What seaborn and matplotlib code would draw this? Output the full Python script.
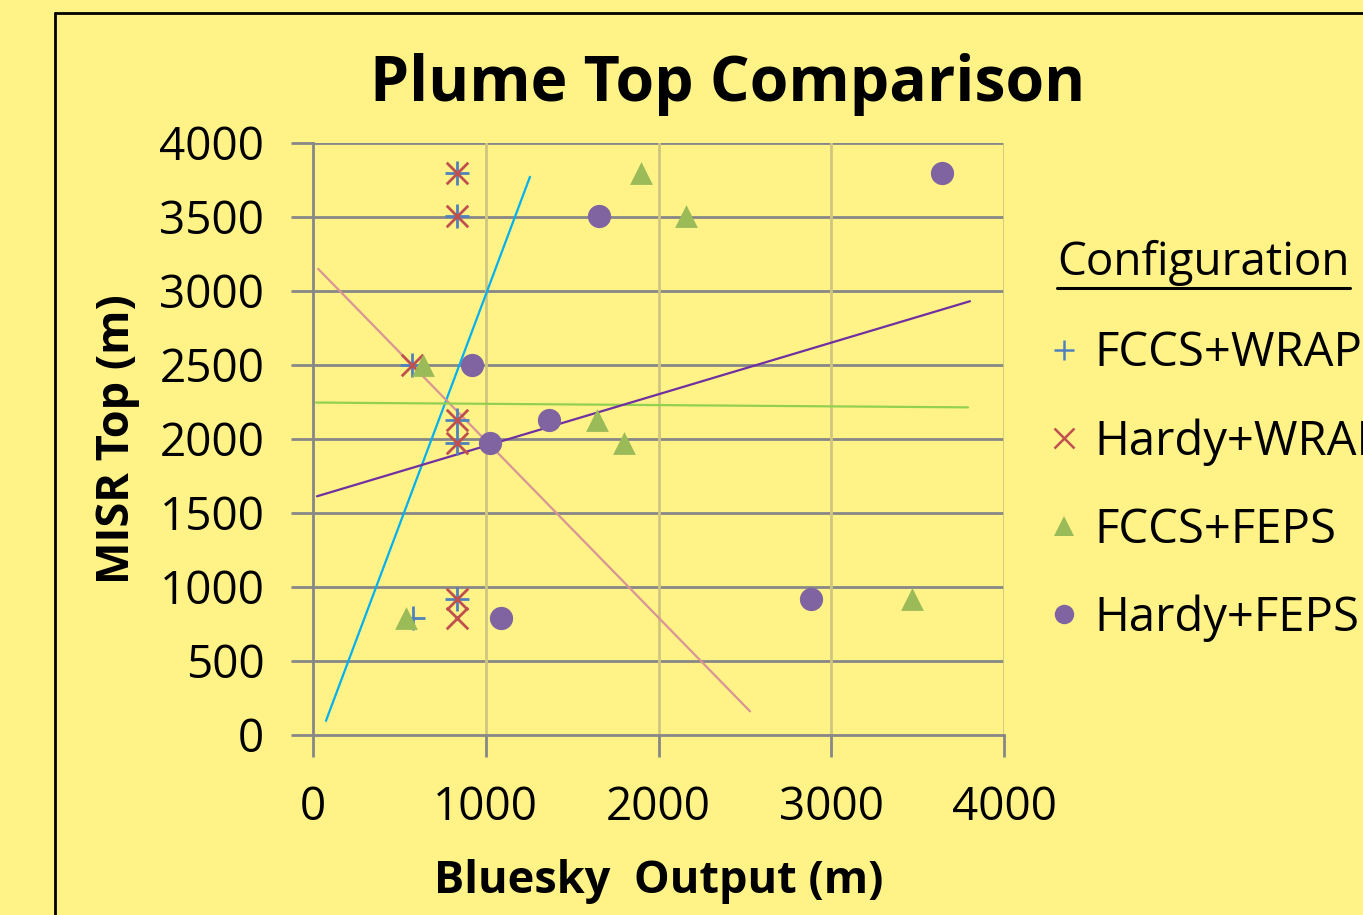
import numpy as np
import pandas as pd
import matplotlib
matplotlib.use("Agg")
import matplotlib.pyplot as plt
from matplotlib.lines import Line2D
import seaborn as sns

# ---- data ----
configs = ["FCCS+WRAP", "Hardy+WRAP", "FCCS+FEPS", "Hardy+FEPS"]
misr_top = [3800, 3510, 2500, 2130, 1970, 920, 790]
bluesky_fccs_wrap = [835, 835, 573, 835, 835, 835, 580]
bluesky_hardy_wrap = [835, 835, 573, 835, 835, 835, 835]
bluesky_fccs_feps = [1900, 2157, 637, 1644, 1800, 3467, 538]
bluesky_hardy_feps = [3641, 1656, 920, 1366, 1025, 2883, 1088]

x_ticks = [0, 1000, 2000, 3000, 4000]
y_ticks = [0, 500, 1000, 1500, 2000, 2500, 3000, 3500, 4000]

# ---- styles ----
BG = "#FFF388"
marker_colors = {"FCCS+WRAP": "#4F81BD", "Hardy+WRAP": "#C0504D",
                 "FCCS+FEPS": "#9BBB59", "Hardy+FEPS": "#8064A2"}
markers = {"FCCS+WRAP": "+", "Hardy+WRAP": "x", "FCCS+FEPS": "^", "Hardy+FEPS": "o"}
marker_sizes = {"FCCS+WRAP": 320, "Hardy+WRAP": 240, "FCCS+FEPS": 270, "Hardy+FEPS": 280}
trend_colors = {"FCCS+WRAP": "#00B0F0", "Hardy+WRAP": "#D99594",
                "FCCS+FEPS": "#92D050", "Hardy+FEPS": "#7030A0"}
trend_span = {"FCCS+WRAP": (75, 1256), "Hardy+WRAP": (30, 2530),
              "FCCS+FEPS": (17, 3792), "Hardy+FEPS": (23, 3803)}

series = {"FCCS+WRAP": bluesky_fccs_wrap, "Hardy+WRAP": bluesky_hardy_wrap,
          "FCCS+FEPS": bluesky_fccs_feps, "Hardy+FEPS": bluesky_hardy_feps}

df = pd.concat([pd.DataFrame({"Bluesky": series[c], "MISR": misr_top, "Configuration": c})
                for c in configs], ignore_index=True)

sns.set_style("white")
FONT = ["Open Sans", "DejaVu Sans"]
plt.rcParams["font.family"] = FONT
plt.rcParams["text.color"] = "black"
plt.rcParams["axes.labelcolor"] = "black"
plt.rcParams["xtick.labelcolor"] = "black"
plt.rcParams["ytick.labelcolor"] = "black"

fig = plt.figure(figsize=(13.63, 9.15), dpi=100, facecolor=BG)
ax = fig.add_axes([313 / 1363, (915 - 735) / 915, (1004 - 313) / 1363, (735 - 143) / 915])
ax.set_facecolor(BG)

# trendlines (OLS fit of each series)
for c in configs:
    slope, intercept = np.polyfit(series[c], misr_top, 1)
    xs = np.array(trend_span[c], dtype=float)
    sns.lineplot(x=xs, y=slope * xs + intercept, color=trend_colors[c], lw=1.6,
                 ax=ax, zorder=3, legend=False)

for c in configs:
    sub = df[df["Configuration"] == c]
    lw = 2.0 if markers[c] in ("+", "x") else 0
    sns.scatterplot(data=sub, x="Bluesky", y="MISR", marker=markers[c],
                    color=marker_colors[c], s=marker_sizes[c], linewidth=lw,
                    edgecolor=marker_colors[c] if lw == 0 else None,
                    ax=ax, zorder=4, legend=False)

ax.set_xlim(0, 4000)
ax.set_ylim(0, 4000)
ax.set_xticks(x_ticks)
ax.set_yticks(y_ticks)
ax.set_xticklabels([str(t) for t in x_ticks])
ax.set_yticklabels([str(t) for t in y_ticks])
ax.tick_params(axis="both", labelsize=33, colors="#878787", labelcolor="black",
               length=16, width=2, direction="out")
ax.tick_params(axis="x", pad=20)
ax.tick_params(axis="y", pad=19)
ax.tick_params(bottom=True, left=True)

# grid
for t in y_ticks[1:]:
    ax.axhline(t, color="#878787", lw=2, zorder=1)
for t in x_ticks[1:]:
    ax.axvline(t, color="#CFC580", lw=2, zorder=1)
for side in ["top", "right"]:
    ax.spines[side].set_visible(False)
for side in ["left", "bottom"]:
    ax.spines[side].set_color("#878787")
    ax.spines[side].set_linewidth(2)

ax.set_xlabel("Bluesky  Output (m)", fontsize=32.5, fontweight="bold", labelpad=20)
ax.set_ylabel("MISR Top (m)", fontsize=32.5, fontweight="bold", labelpad=14)

fig.text(728 / 1363, 1 - 84 / 915, "Plume Top Comparison", fontsize=45,
         fontweight="bold", ha="center", va="center")

# legend
handles = [Line2D([0], [0], marker=markers[c], color="none",
                  markerfacecolor=marker_colors[c], markeredgecolor=marker_colors[c],
                  markersize=15 if markers[c] in ("+", "x") else 14,
                  markeredgewidth=1.8 if markers[c] in ("+", "x") else 0)
           for c in configs]
leg = fig.legend(handles, configs, loc="upper left",
                 bbox_to_anchor=(1033 / 1363, 1 - 311 / 915),
                 frameon=False, fontsize=34, labelspacing=0.86,
                 handlelength=0.5, handletextpad=0.41, borderaxespad=0)

title_txt = fig.text(1057 / 1363, 1 - 263 / 915, "Configuration", fontsize=33,
                     ha="left", va="center")
fig.canvas.draw()
bb = title_txt.get_window_extent().transformed(fig.transFigure.inverted())
fig.add_artist(Line2D([bb.x0, bb.x1], [1 - 288 / 915] * 2, color="black", lw=2.2,
                      transform=fig.transFigure))

# outer frame
fig.add_artist(Line2D([55 / 1363, 55 / 1363], [0, 1 - 13 / 915], color="black", lw=2,
                      transform=fig.transFigure))
fig.add_artist(Line2D([55 / 1363, 1], [1 - 13 / 915] * 2, color="black", lw=2,
                      transform=fig.transFigure))

fig.savefig("out.png", dpi=100, facecolor=BG)
